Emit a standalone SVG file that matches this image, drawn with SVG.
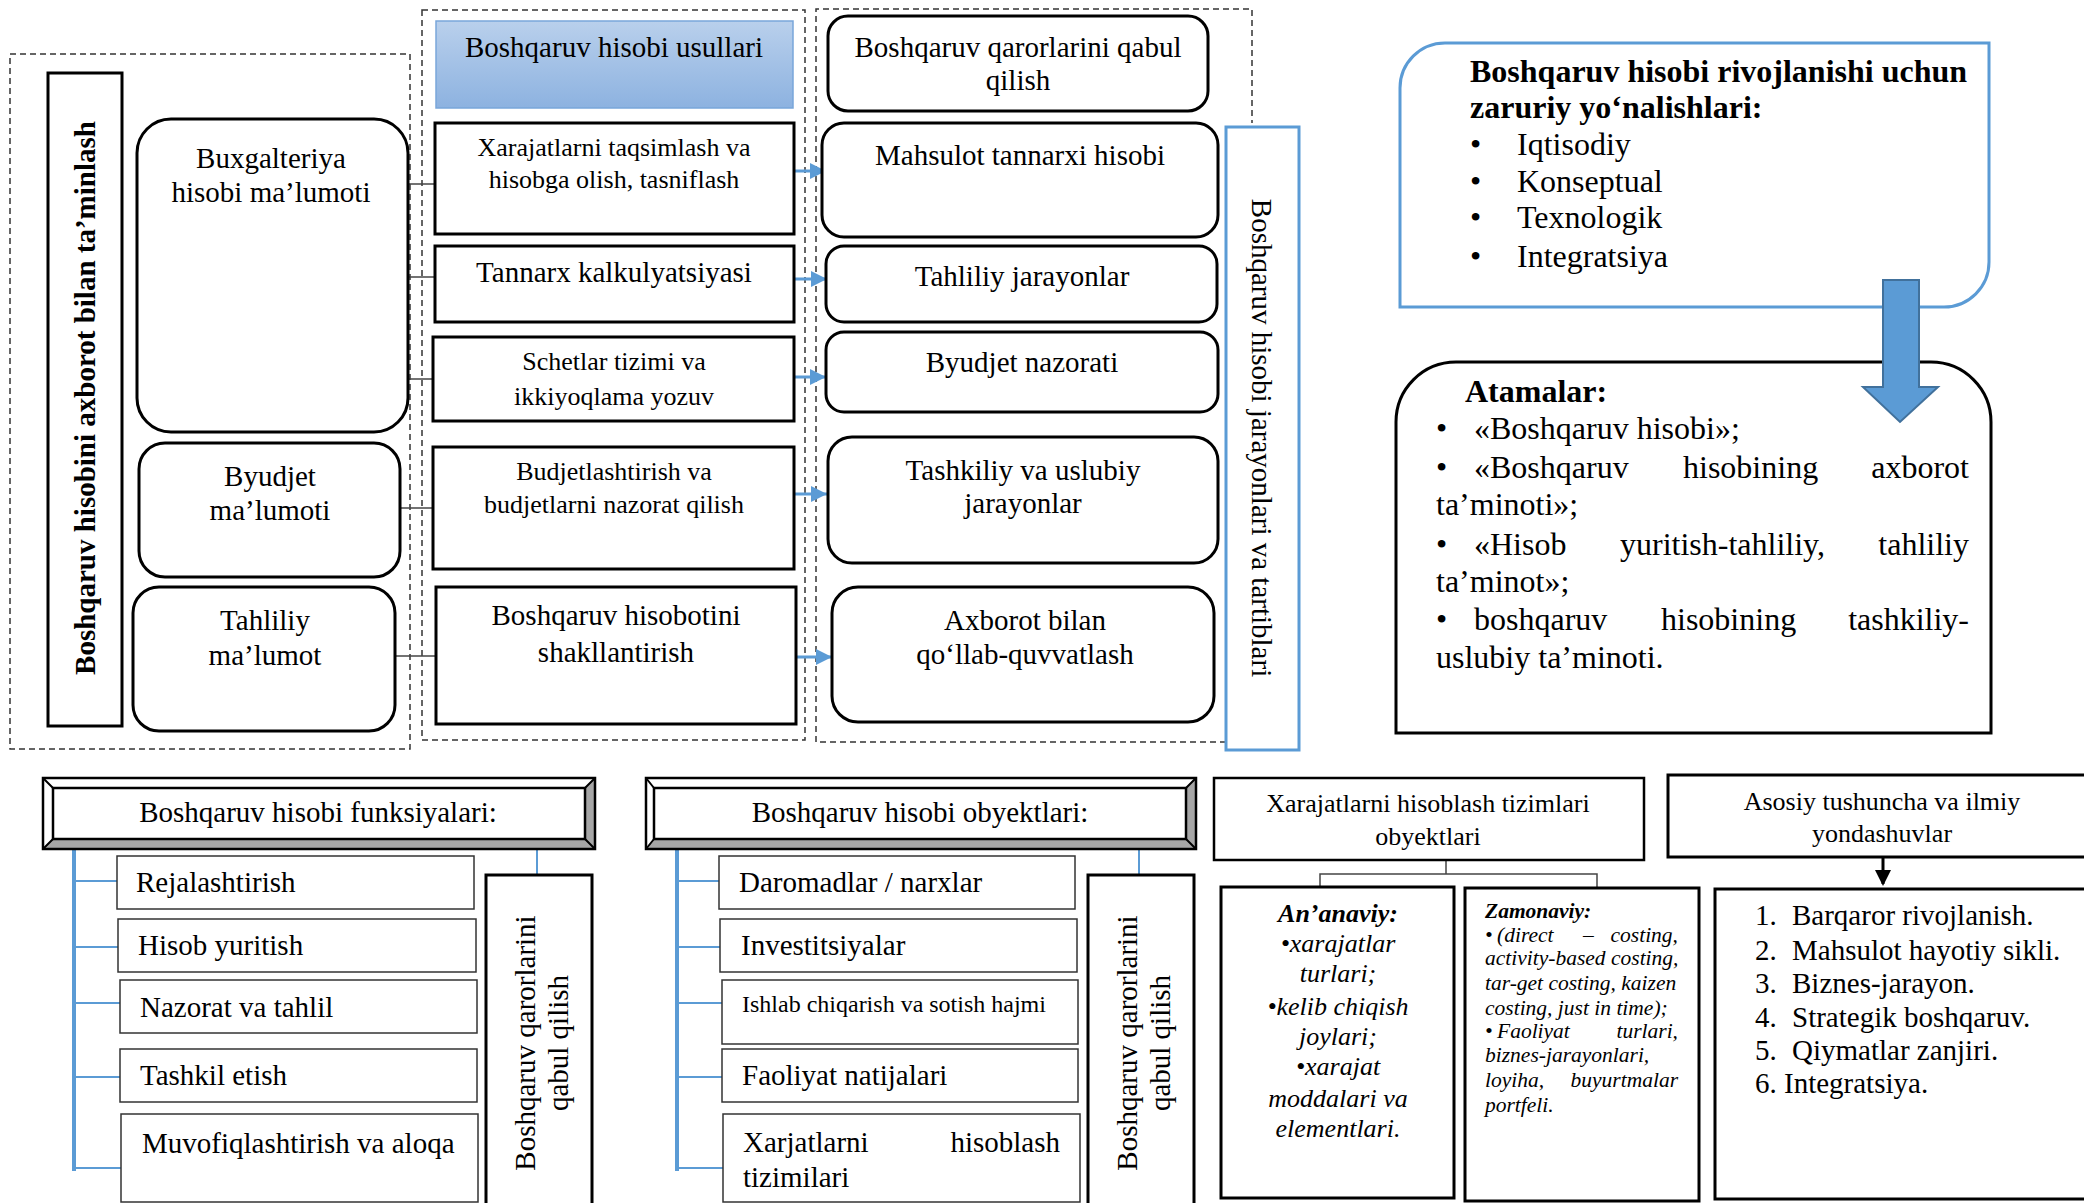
<svg xmlns="http://www.w3.org/2000/svg" width="2084" height="1203" viewBox="0 0 2084 1203">
  <defs>
    <linearGradient id="hdrFill" x1="0" y1="0" x2="0" y2="1">
      <stop offset="0" stop-color="#b9d0ec"/>
      <stop offset="1" stop-color="#8db2e0"/>
    </linearGradient>
    <marker id="blueHead" markerWidth="16" markerHeight="16" refX="16" refY="8" orient="auto" markerUnits="userSpaceOnUse">
      <path d="M0,0 L16,8 L0,16 Z" fill="#5b9bd5"/>
    </marker>
    <marker id="blackHead" markerWidth="16" markerHeight="16" refX="14" refY="8" orient="auto" markerUnits="userSpaceOnUse">
      <path d="M0,0 L16,8 L0,16 Z" fill="#000"/>
    </marker>
  </defs>
  <style>
    text { font-family: "Liberation Serif", "Times New Roman", serif; fill: #000; }
    .f29 { font-size: 29px; }
    .f26 { font-size: 26px; }
    .f32 { font-size: 32px; }
    .mid { text-anchor: middle; }
    .end { text-anchor: end; }
    .b { font-weight: bold; }
    .i { font-style: italic; }
    .dash { fill: none; stroke: #333; stroke-width: 1.5; stroke-dasharray: 6 4; }
    .box3 { fill: #fff; stroke: #000; stroke-width: 3; }
    .thin { fill: #fff; stroke: #333; stroke-width: 1.5; }
    .link { fill: none; stroke: #444; stroke-width: 1.5; }
    .blue { fill: none; stroke: #5b9bd5; }
    .arrow { stroke: #5b9bd5; stroke-width: 3; marker-end: url(#blueHead); }
  </style>

  <rect width="2084" height="1203" fill="#fff"/>

  <!-- dashed group frames -->
  <g id="frames">
    <rect class="dash" x="10" y="54" width="400" height="695"/>
    <rect class="dash" x="422" y="10" width="383" height="730"/>
    <path class="dash" d="M1226,742 H816 V9 H1252 V123"/>
  </g>

  <!-- connectors -->
  <g id="connectors">
    <line class="link" x1="405" y1="184" x2="435" y2="184"/>
    <line class="link" x1="405" y1="277" x2="435" y2="277"/>
    <line class="link" x1="405" y1="379" x2="433" y2="379"/>
    <line class="link" x1="400" y1="508" x2="433" y2="508"/>
    <line class="link" x1="395" y1="656" x2="436" y2="656"/>

    <line class="arrow" x1="794" y1="171" x2="826" y2="171"/>
    <line class="arrow" x1="794" y1="279" x2="827" y2="279"/>
    <line class="arrow" x1="794" y1="377" x2="826" y2="377"/>
    <line class="arrow" x1="794" y1="494" x2="827" y2="494"/>
    <line class="arrow" x1="797" y1="657" x2="832" y2="657"/>

    <!-- functions tree -->
    <line class="blue" stroke-width="4" x1="74" y1="849" x2="74" y2="1171"/>
    <g class="blue" stroke-width="2">
      <line x1="74" y1="881" x2="117" y2="881"/>
      <line x1="74" y1="947" x2="118" y2="947"/>
      <line x1="74" y1="1003" x2="120" y2="1003"/>
      <line x1="74" y1="1077" x2="120" y2="1077"/>
      <line x1="74" y1="1168" x2="121" y2="1168"/>
      <line x1="537" y1="849" x2="537" y2="875"/>
    </g>

    <!-- objects tree -->
    <line class="blue" stroke-width="4" x1="677" y1="849" x2="677" y2="1171"/>
    <g class="blue" stroke-width="2">
      <line x1="677" y1="881" x2="719" y2="881"/>
      <line x1="677" y1="947" x2="720" y2="947"/>
      <line x1="677" y1="1003" x2="722" y2="1003"/>
      <line x1="677" y1="1077" x2="722" y2="1077"/>
      <line x1="677" y1="1168" x2="723" y2="1168"/>
      <line x1="1139" y1="849" x2="1139" y2="875"/>
    </g>

    <!-- cost systems split -->
    <path class="link" d="M1446,860 V874 M1320,888 V874 H1597 V888"/>

    <!-- concepts arrow -->
    <line x1="1883" y1="857" x2="1883" y2="884" stroke="#000" stroke-width="3" marker-end="url(#blackHead)"/>
  </g>

  <!-- left column -->
  <g id="info-supply">
    <rect class="box3" x="48" y="73" width="74" height="653"/>
    <text class="f29 b mid" transform="translate(95,398) rotate(-90)">Boshqaruv hisobini axborot bilan ta’minlash</text>
  </g>
  <g id="accounting-data">
    <rect class="box3" x="137" y="119" width="271" height="313" rx="34"/>
    <text class="f29 mid" x="271" y="168">Buxgalteriya</text>
    <text class="f29 mid" x="271" y="202">hisobi ma’lumoti</text>
  </g>
  <g id="budget-data">
    <rect class="box3" x="139" y="443" width="261" height="134" rx="26"/>
    <text class="f29 mid" x="270" y="486">Byudjet</text>
    <text class="f29 mid" x="270" y="520">ma’lumoti</text>
  </g>
  <g id="analytic-data">
    <rect class="box3" x="133" y="587" width="262" height="144" rx="26"/>
    <text class="f29 mid" x="265" y="630">Tahliliy</text>
    <text class="f29 mid" x="265" y="665">ma’lumot</text>
  </g>

  <!-- methods column -->
  <g id="methods-header">
    <rect x="436" y="21" width="357" height="87" fill="url(#hdrFill)" stroke="#79a6da" stroke-width="1.5"/>
    <text class="f29 mid" x="614" y="57">Boshqaruv hisobi usullari</text>
  </g>
  <g id="cost-allocation">
    <rect class="box3" x="435" y="123" width="359" height="111"/>
    <text class="f26 mid" x="614" y="156">Xarajatlarni taqsimlash va</text>
    <text class="f26 mid" x="614" y="188">hisobga olish, tasniflash</text>
  </g>
  <g id="costing">
    <rect class="box3" x="435" y="246" width="359" height="76"/>
    <text class="f29 mid" x="614" y="282">Tannarx kalkulyatsiyasi</text>
  </g>
  <g id="accounts">
    <rect class="box3" x="433" y="337" width="361" height="84"/>
    <text class="f26 mid" x="614" y="370">Schetlar tizimi va</text>
    <text class="f26 mid" x="614" y="405">ikkiyoqlama yozuv</text>
  </g>
  <g id="budgeting">
    <rect class="box3" x="433" y="447" width="361" height="122"/>
    <text class="f26 mid" x="614" y="480">Budjetlashtirish va</text>
    <text class="f26 mid" x="614" y="513">budjetlarni nazorat qilish</text>
  </g>
  <g id="reporting">
    <rect class="box3" x="436" y="587" width="360" height="137"/>
    <text class="f29 mid" x="616" y="625">Boshqaruv hisobotini</text>
    <text class="f29 mid" x="616" y="662">shakllantirish</text>
  </g>

  <!-- processes column -->
  <g id="decisions">
    <rect class="box3" x="828" y="16" width="380" height="95" rx="20"/>
    <text class="f29 mid" x="1018" y="57">Boshqaruv qarorlarini qabul</text>
    <text class="f29 mid" x="1018" y="90">qilish</text>
  </g>
  <g id="product-cost">
    <rect class="box3" x="822" y="123" width="396" height="114" rx="22"/>
    <text class="f29 mid" x="1020" y="165">Mahsulot tannarxi hisobi</text>
  </g>
  <g id="analytic-processes">
    <rect class="box3" x="826" y="246" width="391" height="76" rx="18"/>
    <text class="f29 mid" x="1022" y="286">Tahliliy jarayonlar</text>
  </g>
  <g id="budget-control">
    <rect class="box3" x="826" y="332" width="392" height="80" rx="18"/>
    <text class="f29 mid" x="1022" y="372">Byudjet nazorati</text>
  </g>
  <g id="org-processes">
    <rect class="box3" x="828" y="437" width="390" height="126" rx="24"/>
    <text class="f29 mid" x="1023" y="480">Tashkiliy va uslubiy</text>
    <text class="f29 mid" x="1023" y="513">jarayonlar</text>
  </g>
  <g id="info-support">
    <rect class="box3" x="832" y="587" width="382" height="135" rx="26"/>
    <text class="f29 mid" x="1025" y="630">Axborot bilan</text>
    <text class="f29 mid" x="1025" y="664">qo‘llab-quvvatlash</text>
  </g>
  <g id="processes-label">
    <rect x="1226" y="127" width="73" height="623" fill="#fff" stroke="#5b9bd5" stroke-width="3"/>
    <text class="f29 mid" transform="translate(1252,438) rotate(90)">Boshqaruv hisobi jarayonlari va tartiblari</text>
  </g>

  <!-- development directions -->
  <g id="directions">
    <path d="M1400,307 V88 A45,45 0 0 1 1445,43 H1989 V262 A45,45 0 0 1 1944,307 Z" fill="#fff" stroke="#5b9bd5" stroke-width="3"/>
    <text class="f32 b" x="1470" y="82">Boshqaruv hisobi rivojlanishi uchun</text>
    <text class="f32 b" x="1470" y="118">zaruriy yo‘nalishlari:</text>
    <g class="f32">
      <text x="1470" y="155">•</text><text x="1517" y="155">Iqtisodiy</text>
      <text x="1470" y="192">•</text><text x="1517" y="192">Konseptual</text>
      <text x="1470" y="228">•</text><text x="1517" y="228">Texnologik</text>
      <text x="1470" y="267">•</text><text x="1517" y="267">Integratsiya</text>
    </g>
  </g>

  <!-- terms -->
  <g id="terms">
    <path d="M1396,733 V422 A60,60 0 0 1 1456,362 H1931 A60,60 0 0 1 1991,422 V733 Z" fill="#fff" stroke="#000" stroke-width="3"/>
    <text class="f32 b" x="1465" y="402">Atamalar:</text>
    <g class="f32">
      <text x="1436" y="439">•</text><text x="1474" y="439">«Boshqaruv hisobi»;</text>
      <text x="1436" y="478">•</text><text x="1474" y="478">«Boshqaruv</text><text x="1683" y="478">hisobining</text><text class="end" x="1969" y="478">axborot</text>
      <text x="1436" y="515">ta’minoti»;</text>
      <text x="1436" y="555">•</text><text x="1474" y="555">«Hisob</text><text x="1620" y="555">yuritish-tahliliy,</text><text class="end" x="1969" y="555">tahliliy</text>
      <text x="1436" y="592">ta’minot»;</text>
      <text x="1436" y="630">•</text><text x="1474" y="630">boshqaruv</text><text x="1661" y="630">hisobining</text><text class="end" x="1969" y="630">tashkiliy-</text>
      <text x="1436" y="668">uslubiy ta’minoti.</text>
    </g>
  </g>

  <!-- arrow from directions to terms -->
  <g id="directions-arrow">
    <path d="M1883,280 H1919 V387 H1938 L1900,422 L1863,387 H1883 Z" fill="#5b9bd5" stroke="#41719c" stroke-width="2"/>
  </g>

  <!-- functions -->
  <g id="functions-header">
    <rect x="43" y="778" width="552" height="71" fill="#fff"/>
    <polygon points="43,849 53,839 585,839 595,849" fill="#a6a6a6"/>
    <polygon points="595,778 595,849 585,839 585,788" fill="#a6a6a6"/>
    <rect x="43" y="778" width="552" height="71" fill="none" stroke="#000" stroke-width="2.5"/>
    <rect x="53" y="788" width="532" height="51" fill="none" stroke="#000" stroke-width="2.5"/>
    <path d="M43,778 L53,788 M595,778 L585,788 M43,849 L53,839 M595,849 L585,839" stroke="#000" stroke-width="2"/>
    <text class="f29 mid" x="318" y="822">Boshqaruv hisobi funksiyalari:</text>
  </g>
  <g id="planning"><rect class="thin" x="117" y="856" width="357" height="53"/><text class="f29" x="136" y="892">Rejalashtirish</text></g>
  <g id="bookkeeping"><rect class="thin" x="118" y="919" width="358" height="53"/><text class="f29" x="138" y="955">Hisob yuritish</text></g>
  <g id="control"><rect class="thin" x="120" y="980" width="357" height="53"/><text class="f29" x="140" y="1017">Nazorat va tahlil</text></g>
  <g id="organizing"><rect class="thin" x="120" y="1049" width="357" height="53"/><text class="f29" x="140" y="1085">Tashkil etish</text></g>
  <g id="coordination"><rect class="thin" x="121" y="1114" width="357" height="88"/><text class="f29" x="142" y="1153">Muvofiqlashtirish va aloqa</text></g>
  <g id="decisions-functions">
    <rect class="box3" x="486" y="875" width="106" height="345"/>
    <text class="f29 mid" transform="translate(535,1043) rotate(-90)">Boshqaruv qarorlarini</text>
    <text class="f29 mid" transform="translate(568,1043) rotate(-90)">qabul qilish</text>
  </g>

  <!-- objects -->
  <g id="objects-header">
    <rect x="646" y="778" width="550" height="71" fill="#fff"/>
    <polygon points="646,849 654,839 1186,839 1196,849" fill="#a6a6a6"/>
    <polygon points="1196,778 1196,849 1186,839 1186,788" fill="#a6a6a6"/>
    <rect x="646" y="778" width="550" height="71" fill="none" stroke="#000" stroke-width="2.5"/>
    <rect x="654" y="788" width="532" height="51" fill="none" stroke="#000" stroke-width="2.5"/>
    <path d="M646,778 L654,788 M1196,778 L1186,788 M646,849 L654,839 M1196,849 L1186,839" stroke="#000" stroke-width="2"/>
    <text class="f29 mid" x="920" y="822">Boshqaruv hisobi obyektlari:</text>
  </g>
  <g id="revenues"><rect class="thin" x="719" y="856" width="356" height="53"/><text class="f29" x="739" y="892">Daromadlar / narxlar</text></g>
  <g id="investments"><rect class="thin" x="720" y="919" width="357" height="53"/><text class="f29" x="741" y="955">Investitsiyalar</text></g>
  <g id="volume"><rect class="thin" x="722" y="980" width="356" height="64"/><text x="742" y="1012" font-size="24">Ishlab chiqarish va sotish hajmi</text></g>
  <g id="results"><rect class="thin" x="722" y="1049" width="356" height="53"/><text class="f29" x="742" y="1085">Faoliyat natijalari</text></g>
  <g id="cost-systems-item">
    <rect class="thin" x="723" y="1114" width="357" height="88"/>
    <text class="f29" x="743" y="1152">Xarjatlarni</text>
    <text class="f29 end" x="1060" y="1152">hisoblash</text>
    <text class="f29" x="743" y="1187">tizimilari</text>
  </g>
  <g id="decisions-objects">
    <rect class="box3" x="1088" y="875" width="106" height="345"/>
    <text class="f29 mid" transform="translate(1137,1043) rotate(-90)">Boshqaruv qarorlarini</text>
    <text class="f29 mid" transform="translate(1170,1043) rotate(-90)">qabul qilish</text>
  </g>

  <!-- cost accounting systems -->
  <g id="cost-systems">
    <rect x="1214" y="778" width="430" height="82" fill="#fff" stroke="#000" stroke-width="2.5"/>
    <text class="f26 mid" x="1428" y="812">Xarajatlarni hisoblash tizimlari</text>
    <text class="f26 mid" x="1428" y="845">obyektlari</text>
  </g>
  <g id="traditional">
    <rect class="box3" x="1221" y="887" width="233" height="311"/>
    <g class="f26 mid i">
      <text class="b" x="1338" y="922">An’anaviy:</text>
      <text x="1338" y="952">•xarajatlar</text>
      <text x="1338" y="982">turlari;</text>
      <text x="1338" y="1015">•kelib chiqish</text>
      <text x="1338" y="1045">joylari;</text>
      <text x="1338" y="1075">•xarajat</text>
      <text x="1338" y="1107">moddalari va</text>
      <text x="1338" y="1137">elementlari.</text>
    </g>
  </g>
  <g id="modern">
    <rect class="box3" x="1465" y="888" width="234" height="313"/>
    <g class="i" font-size="21.5">
      <text class="b" x="1485" y="918">Zamonaviy:</text>
      <text x="1485" y="942">•</text><text x="1497" y="942">(direct</text><text x="1583" y="942">–</text><text class="end" x="1678" y="942">costing,</text>
      <text x="1485" y="965">activity-based costing,</text>
      <text x="1485" y="990">tar-get costing, kaizen</text>
      <text x="1485" y="1015">costing, just in time);</text>
      <text x="1485" y="1038">•</text><text x="1497" y="1038">Faoliyat</text><text class="end" x="1678" y="1038">turlari,</text>
      <text x="1485" y="1062">biznes-jarayonlari,</text>
      <text x="1485" y="1087">loyiha,</text><text class="end" x="1678" y="1087">buyurtmalar</text>
      <text x="1485" y="1112">portfeli.</text>
    </g>
  </g>

  <!-- concepts and approaches -->
  <g id="concepts">
    <rect class="box3" x="1668" y="775" width="430" height="82"/>
    <text class="f26 mid" x="1882" y="810">Asosiy tushuncha va ilmiy</text>
    <text class="f26 mid" x="1882" y="842">yondashuvlar</text>
  </g>
  <g id="concepts-list">
    <rect class="box3" x="1715" y="889" width="380" height="310"/>
    <g class="f29">
      <text x="1755" y="925">1.</text><text x="1792" y="925">Barqaror rivojlanish.</text>
      <text x="1755" y="960">2.</text><text x="1792" y="960">Mahsulot hayotiy sikli.</text>
      <text x="1755" y="993">3.</text><text x="1792" y="993">Biznes-jarayon.</text>
      <text x="1755" y="1027">4.</text><text x="1792" y="1027">Strategik boshqaruv.</text>
      <text x="1755" y="1060">5.</text><text x="1792" y="1060">Qiymatlar zanjiri.</text>
      <text x="1755" y="1093">6. Integratsiya.</text>
    </g>
  </g>
</svg>
